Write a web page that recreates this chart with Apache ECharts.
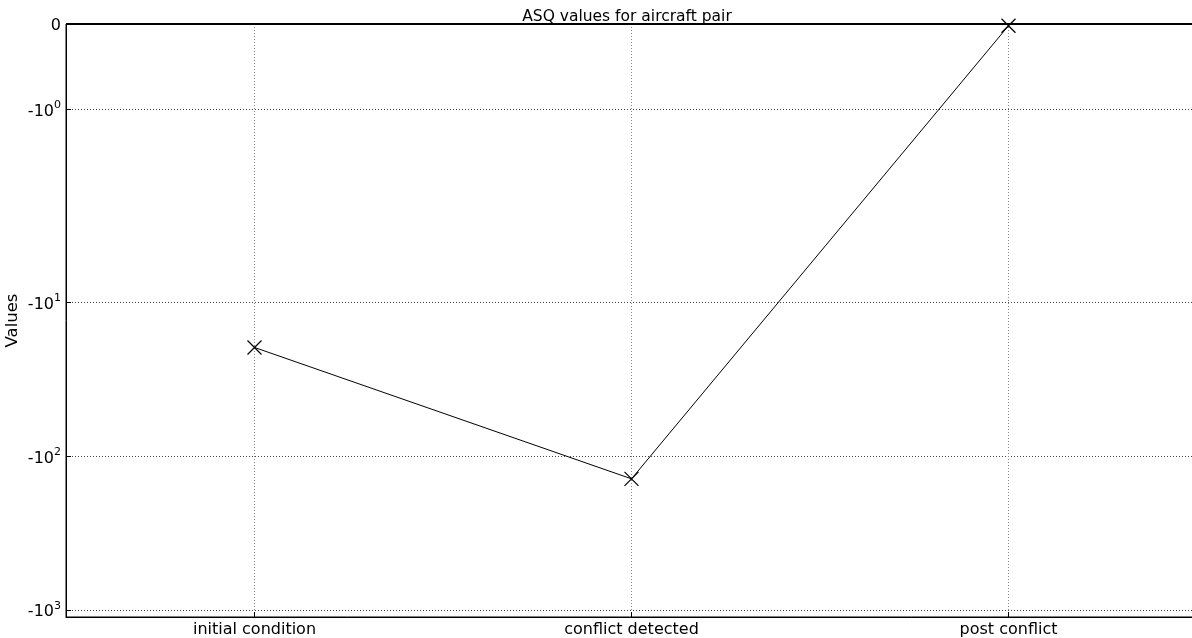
<!DOCTYPE html>
<html>
<head>
<meta charset="utf-8">
<script src="https://cdn.jsdelivr.net/npm/echarts@6/dist/echarts.min.js"></script>
<style>
html,body{margin:0;padding:0;background:#fff;}
#chart{width:1192px;height:638px;}
</style>
</head>
<body>
<div id="chart"></div>
<script>
// ---- data ----
const categories = ['initial condition', 'conflict detected', 'post conflict'];
const asqValues = [-19.6, -140, -0.02];
const yTickValues = [0, -1, -10, -100, -1000];
const yTickExponents = [null, '0', '1', '2', '3'];
const yLimits = [-1107, 0];
const xLimits = [-0.5, 2.5];

// symlog transform (base 10, linthresh 2, linscale 1) like matplotlib
const LINTHRESH = 2;
const LINSCALE_ADJ = 1 / (1 - 1 / 10);
function symlog(v) {
  const a = Math.abs(v);
  const s = v < 0 ? -1 : 1;
  if (a <= LINTHRESH) return s * (a / LINTHRESH) * LINSCALE_ADJ;
  return s * (LINSCALE_ADJ + Math.log10(a / LINTHRESH));
}

const yTickPos = yTickValues.map(symlog);
const seriesData = asqValues.map((v, i) => [i, symlog(v)]);

function yLabel(value) {
  for (let i = 0; i < yTickPos.length; i++) {
    if (Math.abs(yTickPos[i] - value) < 1e-6) {
      if (yTickExponents[i] === null) return '{b|0}';
      return '{b|-10}{s|' + yTickExponents[i] + '}';
    }
  }
  return '';
}

const FONT = 'DejaVu Sans';
const chart = echarts.init(document.getElementById('chart'), null, {renderer: 'canvas'});
chart.setOption({
  animation: false,
  backgroundColor: '#fff',
  textStyle: {fontFamily: FONT},
  title: {
    text: 'ASQ values for aircraft pair',
    left: 622,
    top: 4,
    textAlign: 'center',
    textStyle: {fontFamily: FONT, fontSize: 15.5, fontWeight: 'normal', color: '#000'}
  },
  grid: {
    left: 66, right: -5, top: 24, bottom: 21,
    outerBoundsMode: 'none',
    containLabel: false,
    show: true, borderColor: '#000', borderWidth: 1, backgroundColor: 'transparent'
  },
  xAxis: {
    type: 'value',
    min: xLimits[0], max: xLimits[1],
    axisLine: {show: true, onZero: false, lineStyle: {color: '#000', width: 1}},
    axisTick: {show: true, inside: true, length: 5, customValues: [0, 1, 2], lineStyle: {color: '#000'}},
    axisLabel: {
      show: true, customValues: [0, 1, 2], margin: 5,
      fontFamily: FONT, fontSize: 16, color: '#000',
      formatter: v => categories[Math.round(v)] || ''
    },
    splitLine: {show: true, lineStyle: {color: '#888', type: [1, 2], width: 1}}
  },
  yAxis: {
    type: 'value',
    min: symlog(yLimits[0]), max: symlog(yLimits[1]),
    name: 'Values',
    nameLocation: 'middle',
    nameGap: 45,
    nameMoveOverlap: false,
    nameTextStyle: {fontFamily: FONT, fontSize: 16.5, color: '#000'},
    axisLine: {show: true, onZero: false, lineStyle: {color: '#000', width: 1}},
    axisTick: {show: true, inside: true, length: 5, customValues: yTickPos, lineStyle: {color: '#000'}},
    axisLabel: {
      show: true, customValues: yTickPos, margin: 5, color: '#000',
      formatter: yLabel,
      rich: {
        b: {fontFamily: FONT, fontSize: 16, color: '#000', lineHeight: 20, verticalAlign: 'bottom'},
        s: {fontFamily: FONT, fontSize: 11, color: '#000', lineHeight: 11, verticalAlign: 'top'}
      }
    },
    splitLine: {show: true, lineStyle: {color: '#444', type: [1, 2], width: 1}}
  },
  series: [{
    type: 'line',
    data: seriesData,
    symbol: 'path://M0,0L12,12M12,0L0,12',
    symbolSize: 14,
    lineStyle: {color: '#000', width: 1},
    itemStyle: {color: 'rgba(0,0,0,0)', borderColor: '#000', borderWidth: 1.2},
    emphasis: {disabled: true},
    markLine: {
      silent: true,
      symbol: 'none',
      label: {show: false},
      lineStyle: {color: '#000', type: 'solid', width: 2},
      data: [{yAxis: symlog(yTickValues[0])}]
    },
    z: 5
  }]
});
</script>
</body>
</html>
